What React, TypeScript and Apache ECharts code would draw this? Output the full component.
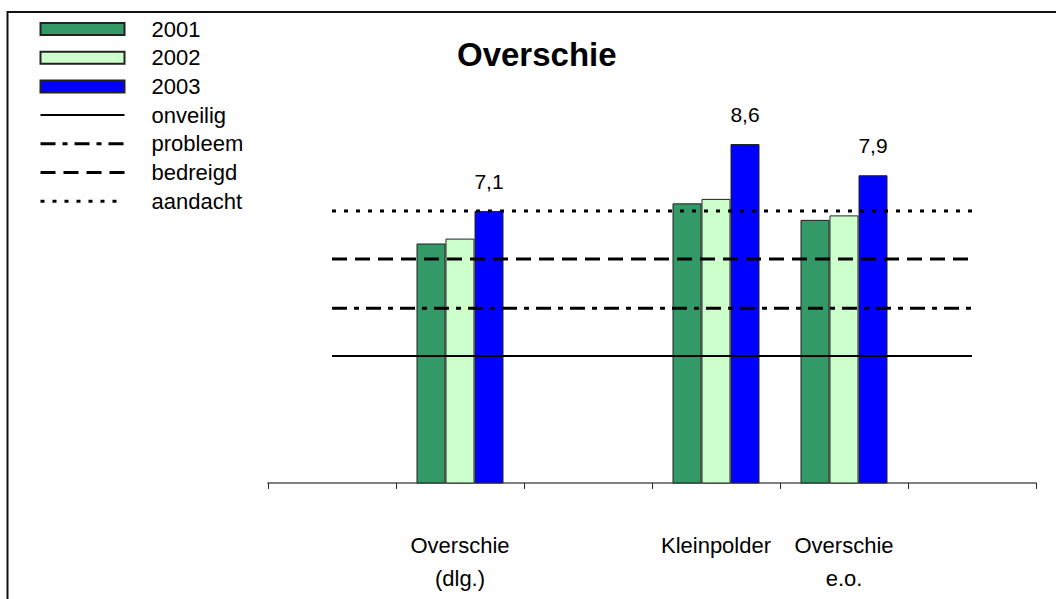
import React, { useEffect, useRef } from "react";
import * as echarts from "echarts";

const categories = ["", "Overschie\n(dlg.)", "", "Kleinpolder", "Overschie\ne.o.", ""];
const s2001 = [null, 6.37, null, 7.27, 6.9, null];
const s2002 = [null, 6.48, null, 7.37, 7.0, null];
const s2003 = [null, 7.1, null, 8.6, 7.9, null];
const onveilig = 3.85;
const probleem = 4.92;
const bedreigd = 6.02;
const aandacht = 7.1;

const FONT = 'Arial, "Liberation Sans", sans-serif';

export default function App() {
  const ref = useRef<HTMLDivElement>(null);
  useEffect(() => {
    if (!ref.current) return;
    const chart = echarts.init(ref.current, undefined, { renderer: "svg" });
    const flat = (v: number) => categories.map(() => v);
    const barStyle = (color: string) => ({ color, borderColor: "#222", borderWidth: 1 });
    const lineSeries = (name: string, v: number, type: any, width: number) => ({
      name,
      type: "line",
      data: flat(v),
      symbol: "none",
      silent: true,
      z: 5,
      lineStyle: { color: "#000", width, type },
      itemStyle: { color: "#000" },
    });
    const lineLegend = (name: string, width: number) => ({
      name,
      itemStyle: { color: "transparent", opacity: 0, borderWidth: 0 },
      lineStyle: { width },
    });
    chart.setOption({
      animation: false,
      backgroundColor: "#fff",
      title: {
        text: "Overschie",
        left: 457,
        top: 38,
        padding: 0,
        textStyle: { fontFamily: FONT, fontSize: 33, fontWeight: "bold", color: "#000" },
      },
      legend: {
        orient: "vertical",
        left: 39,
        top: 18,
        itemWidth: 84,
        itemHeight: 12,
        itemGap: 6.7,
        padding: 0,
        textStyle: { fontFamily: FONT, fontSize: 22, color: "#000", lineHeight: 22, padding: [0, 0, 0, 22] },
        data: [
          { name: "2001", icon: "rect" },
          { name: "2002", icon: "rect" },
          { name: "2003", icon: "rect" },
          lineLegend("onveilig", 2),
          lineLegend("probleem", 3),
          lineLegend("bedreigd", 3),
          lineLegend("aandacht", 3),
        ],
      },
      grid: { left: 268, right: 20, top: 81.6, bottom: 116 },
      xAxis: {
        type: "category",
        data: categories,
        boundaryGap: true,
        axisLine: { lineStyle: { color: "#808080", width: 2 } },
        axisTick: { show: true, length: 6, lineStyle: { color: "#222", width: 1 } },
        axisLabel: {
          interval: 0,
          margin: 46,
          fontFamily: FONT,
          fontSize: 22,
          lineHeight: 33,
          color: "#000",
        },
      },
      yAxis: {
        type: "value",
        min: 1,
        max: 10,
        show: false,
        splitLine: { show: false },
      },
      series: [
        { name: "2001", type: "bar", data: s2001, barWidth: 29, barGap: "0%", itemStyle: barStyle("#339966") },
        { name: "2002", type: "bar", data: s2002, barWidth: 29, barGap: "0%", itemStyle: barStyle("#CCFFCC") },
        {
          name: "2003",
          type: "bar",
          data: s2003,
          barWidth: 29,
          barGap: "0%",
          itemStyle: barStyle("#0000FF"),
          label: {
            show: true,
            position: "top",
            distance: 19,
            fontFamily: FONT,
            fontSize: 21,
            color: "#000",
            formatter: (p: any) => String(p.value).replace(".", ","),
          },
        },
        lineSeries("onveilig", onveilig, "solid", 2),
        lineSeries("probleem", probleem, [15, 7, 5, 7], 3),
        lineSeries("bedreigd", bedreigd, [15, 8], 3),
        lineSeries("aandacht", aandacht, [4, 8], 3),
      ],
      graphic: [
        {
          type: "rect",
          silent: true,
          shape: { x: 7.5, y: 12, width: 1200, height: 800 },
          style: { fill: "none", stroke: "#111", lineWidth: 2 },
        },
      ],
    });
    return () => chart.dispose();
  }, []);
  return (
    <div
      ref={ref}
      style={{ position: "fixed", left: 0, top: 0, width: 1056, height: 599, background: "#fff" }}
    />
  );
}
